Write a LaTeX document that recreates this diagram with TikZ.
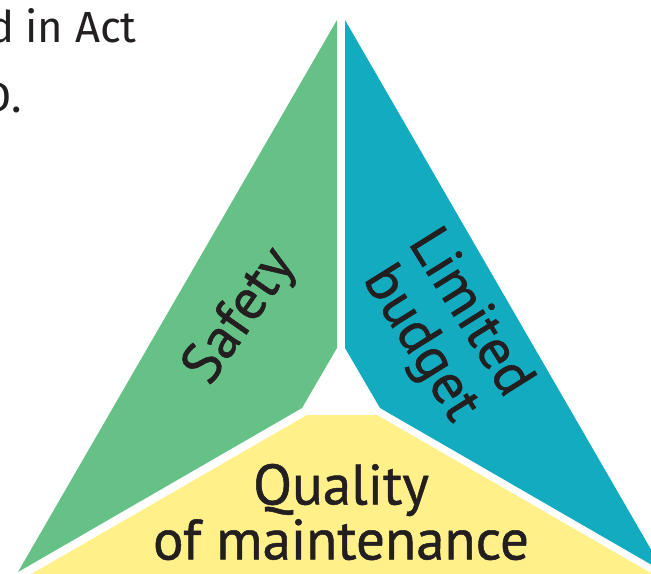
\documentclass[tikz,border=0pt]{standalone}
\usepackage{fontspec}
\setmainfont{Fira Sans}
\newfontfamily\facefont[FakeBold=0.9]{PT Sans}
\usetikzlibrary{positioning}
\definecolor{safetygreen}{HTML}{66C187}
\definecolor{budgetteal}{HTML}{13ABBF}
\definecolor{qualityyellow}{HTML}{FFF08A}
\definecolor{inkblack}{HTML}{231F20}
\tikzset{
    % One unit is one pixel of the original artwork, y running down
    pixel grid/.style={x=0.5pt, y=-0.5pt},
%
    % The three faces of the triangle
    safety fill/.style={fill=safetygreen},
    budget fill/.style={fill=budgetteal},
    quality fill/.style={fill=qualityyellow},
%
    % Large lettering set on each face
    face text/.style={text=inkblack, align=center, inner sep=0,
        font=\facefont\fontsize{28.5}{27.5}\selectfont},
%
    % Running text of the page the figure was cut from
    page text/.style={text=inkblack, inner sep=0,
        font=\fontsize{21.8}{35}\selectfont}}

\begin{document}
\begin{tikzpicture}[pixel grid]

\useasboundingbox (0,0) rectangle (651,573);

\fill[safety fill] (337,20) -- (337,348) -- (302,408) -- (18,572) -- cycle;
\fill[budget fill] (345,20) -- (345,348) -- (380,408) -- (664,572) -- cycle;
\fill[quality fill] (307,415) -- (377,415) -- (663,580) -- (21,580) -- cycle;

\node[face text, rotate=55] (safety label) at (241,317) {Safety};
\node[face text, rotate=-58, font=\facefont\fontsize{28.5}{29}\selectfont]
    (budget label) at (444,329) {Limited\\budget};
\node[face text] (quality label) at (341,512) {Quality\\of maintenance};

\node[page text, anchor=base east] (page line one) at (137,42) {d in Act};
\node[page text, anchor=base east] (page line two) at (22,112) {D.};

\end{tikzpicture}
\end{document}
